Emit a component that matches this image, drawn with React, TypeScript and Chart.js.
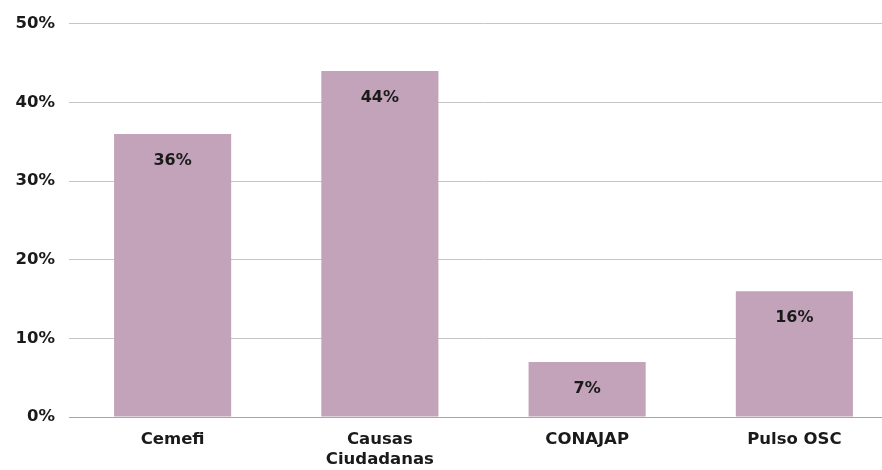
import React, { useEffect, useRef } from "react";
import { Chart, registerables } from "chart.js";

Chart.register(...registerables);

const categories: (string | string[])[] = ["Cemefi", ["Causas", "Ciudadanas"], "CONAJAP", "Pulso OSC"];
const values: number[] = [36, 44, 7, 16];
const yTicks: number[] = [0, 10, 20, 30, 40, 50];

const BAR_COLOR = "#C3A3B9";
const TEXT_COLOR = "#1a1a1a";
const FONT = "'DejaVu Sans', sans-serif";

const labelPlugin = {
  id: "barLabels",
  afterDatasetsDraw(chart: any) {
    const ctx = chart.ctx;
    const meta = chart.getDatasetMeta(0);
    ctx.save();
    ctx.fillStyle = TEXT_COLOR;
    ctx.font = `600 16px ${FONT}`;
    ctx.textAlign = "center";
    ctx.textBaseline = "middle";
    meta.data.forEach((bar: any, i: number) => {
      ctx.fillText(`${values[i]}%`, bar.x, bar.y + 27);
    });
    ctx.restore();
  },
};

export default function App() {
  const ref = useRef<HTMLCanvasElement>(null);
  useEffect(() => {
    if (!ref.current) return;
    const chart = new Chart(ref.current, {
      type: "bar",
      data: {
        labels: categories,
        datasets: [
          {
            data: values,
            backgroundColor: BAR_COLOR,
            borderWidth: 0,
            categoryPercentage: 1,
            barPercentage: 0.565,
          },
        ],
      },
      options: {
        animation: false,
        responsive: false,
        maintainAspectRatio: false,
        layout: { padding: { top: 21, right: 0, left: 0, bottom: 0 } },
        plugins: { legend: { display: false }, tooltip: { enabled: false } },
        scales: {
          x: {
            grid: { display: false, drawTicks: false },
            border: { display: true, color: "#a6a6a6", width: 1 },
            ticks: {
              color: TEXT_COLOR,
              font: { family: FONT, size: 16.5, weight: "600", lineHeight: 1.25 },
              padding: 12,
              maxRotation: 0,
              autoSkip: false,
            },
            afterFit: (s: any) => {
              s.height = 53;
            },
          },
          y: {
            min: 0,
            max: 50,
            afterBuildTicks: (s: any) => {
              s.ticks = yTicks.map((v) => ({ value: v }));
            },
            grid: { color: "#c6c6c6", lineWidth: 1, drawTicks: false },
            border: { display: false },
            ticks: {
              color: TEXT_COLOR,
              font: { family: FONT, size: 16.5, weight: "600" },
              padding: 14,
              callback: (v: any) => `${v}%`,
            },
            afterFit: (s: any) => {
              s.width = 69;
            },
          },
        },
      },
      plugins: [labelPlugin],
    });
    return () => chart.destroy();
  }, []);
  return (
    <div style={{ position: "fixed", left: 0, top: 0, width: 882, height: 470, overflow: "hidden", background: "#fff" }}>
      <canvas ref={ref} width={898} height={470} style={{ display: "block", width: 898, height: 470 }} />
    </div>
  );
}
